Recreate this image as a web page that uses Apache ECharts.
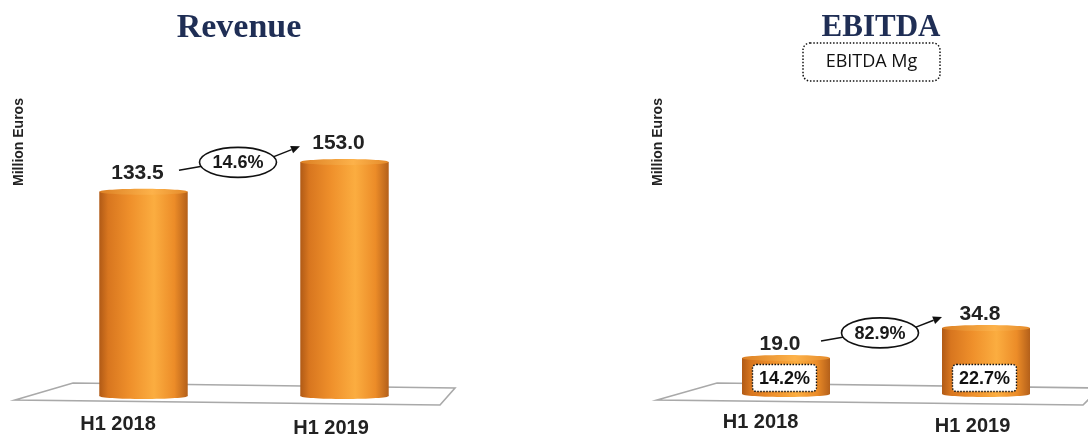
<!DOCTYPE html>
<html>
<head>
<meta charset="utf-8">
<script src="https://cdn.jsdelivr.net/npm/echarts@6/dist/echarts.min.js"></script>
<style>
  html, body { margin: 0; padding: 0; background: #ffffff; }
  #chart { width: 1088px; height: 438px; }
</style>
</head>
<body>
<div id="chart"></div>
<script>
// ---- data ----
const categories = ['H1 2018', 'H1 2019'];
const revenueValues = [133.5, 153.0];
const revenueGrowth = '14.6%';
const ebitdaValues = [19.0, 34.8];
const ebitdaGrowth = '82.9%';
const ebitdaMargins = ['14.2%', '22.7%'];
const panelTitles = ['Revenue', 'EBITDA'];
const unitLabel = 'Million Euros';
const marginLegend = 'EBITDA Mg';

// ---- styling ----
const INK = '#222222';
const TITLE_COLOR = '#1f2e55';
const LABEL_FONT = 'bold 21px "Liberation Sans", Arial, sans-serif';

const bodyFill = {
  type: 'linear', x: 0, y: 0, x2: 1, y2: 0,
  colorStops: [
    { offset: 0, color: '#b05a16' },
    { offset: 0.1, color: '#d8761f' },
    { offset: 0.35, color: '#ef902b' },
    { offset: 0.62, color: '#fbad40' },
    { offset: 0.85, color: '#ec8c28' },
    { offset: 1, color: '#b4601a' }
  ]
};
const topFill = {
  type: 'linear', x: 0, y: 0, x2: 1, y2: 0,
  colorStops: [
    { offset: 0, color: '#dc8024' },
    { offset: 0.6, color: '#fdb24a' },
    { offset: 1, color: '#e48a2a' }
  ]
};

// cylinder bars, value label above, optional margin tag inside, growth bubble between bars
function makeRenderer(values, growthText, margins, labelDy) {
  const labelDx = -6;
  return function (params, api) {
    const idx = api.value(0);
    const v = api.value(1);
    const top = api.coord([idx, v]);
    const base = api.coord([idx, 0]);
    const w = api.size([1, 0])[0] * 0.44;
    const rx = w / 2, ry = 3;
    const cx = top[0];
    const children = [
      { type: 'ellipse', shape: { cx: cx, cy: base[1], rx: rx, ry: ry }, style: { fill: bodyFill } },
      { type: 'rect', shape: { x: cx - rx, y: top[1], width: w, height: base[1] - top[1] }, style: { fill: bodyFill } },
      { type: 'ellipse', shape: { cx: cx, cy: top[1], rx: rx, ry: ry }, style: { fill: topFill } },
      {
        type: 'text',
        style: {
          text: v.toFixed(1), x: cx + labelDx, y: top[1] + labelDy,
          align: 'center', verticalAlign: 'middle', font: LABEL_FONT, fill: INK
        }
      }
    ];

    if (margins) {
      const bx = cx - 1.5, by = base[1] - 16;
      children.push({
        type: 'rect',
        shape: { x: bx - 32, y: by - 13.5, width: 64, height: 27, r: 4 },
        style: { fill: '#ffffff', stroke: '#111111', lineWidth: 1.4, lineDash: [1.5, 1.5] }
      });
      children.push({
        type: 'text',
        style: {
          text: margins[params.dataIndex], x: bx, y: by + 1,
          align: 'center', verticalAlign: 'middle',
          font: 'bold 18px "Liberation Sans", Arial, sans-serif', fill: '#111111'
        }
      });
    }

    if (params.dataIndex === 1) {
      const p0 = api.coord([0, values[0]]);
      const l0 = [p0[0] + labelDx, p0[1] + labelDy];
      const l1 = [cx + labelDx, top[1] + labelDy];
      const ex = (l0[0] + l1[0]) / 2;
      const ey = (l0[1] + l1[1]) / 2 + 4;
      const tip = [ex + 62, ey - 16];
      const from = [ex + 34, ey - 5];
      const dx = tip[0] - from[0], dy = tip[1] - from[1];
      const len = Math.sqrt(dx * dx + dy * dy);
      const ux = dx / len, uy = dy / len;
      const hl = 9, hw = 4;
      const back = [tip[0] - ux * hl, tip[1] - uy * hl];
      children.push(
        {
          type: 'line',
          shape: { x1: ex - 59, y1: ey + 8, x2: ex - 36, y2: ey + 4 },
          style: { stroke: '#111111', lineWidth: 1.5 }
        },
        {
          type: 'line',
          shape: { x1: from[0], y1: from[1], x2: back[0], y2: back[1] },
          style: { stroke: '#111111', lineWidth: 1.5 }
        },
        {
          type: 'polygon',
          shape: { points: [tip, [back[0] - uy * hw, back[1] + ux * hw], [back[0] + uy * hw, back[1] - ux * hw]] },
          style: { fill: '#111111' }
        },
        {
          type: 'ellipse',
          shape: { cx: ex, cy: ey, rx: 38.5, ry: 15 },
          style: { fill: '#ffffff', stroke: '#111111', lineWidth: 1.6 }
        },
        {
          type: 'text',
          style: {
            text: growthText, x: ex, y: ey + 1, align: 'center', verticalAlign: 'middle',
            font: 'bold 18px "Liberation Sans", Arial, sans-serif', fill: '#1a1a1a'
          }
        }
      );
    }
    return { type: 'group', children: children };
  };
}

function categoryAxis(gridIndex) {
  return {
    type: 'category', gridIndex: gridIndex, data: categories,
    axisLine: { show: false }, axisTick: { show: false }, splitLine: { show: false },
    axisLabel: {
      margin: 18,
      formatter: function (val, i) { return '{c' + i + '|' + val + '}'; },
      rich: {
        c0: { padding: [0, 51, 0, 0], fontSize: 20, fontWeight: 'bold', color: INK, fontFamily: '"Liberation Sans", Arial, sans-serif' },
        c1: { padding: [4, 27, 0, 0], fontSize: 20, fontWeight: 'bold', color: INK, fontFamily: '"Liberation Sans", Arial, sans-serif' }
      }
    }
  };
}

function valueAxis(gridIndex, max) {
  return {
    type: 'value', gridIndex: gridIndex, min: 0, max: max,
    axisLine: { show: false }, axisTick: { show: false },
    axisLabel: { show: false }, splitLine: { show: false }
  };
}

function floor(points) {
  return {
    type: 'polygon', z: 0,
    shape: { points: points },
    style: { fill: 'none', stroke: '#a9a9a9', lineWidth: 1.6 }
  };
}

function unitText(x, y) {
  return {
    type: 'text', x: x, y: y, rotation: Math.PI / 2,
    style: {
      text: unitLabel, align: 'center', verticalAlign: 'middle',
      font: 'bold 14px "Liberation Sans", Arial, sans-serif', fill: '#222222'
    }
  };
}

const chart = echarts.init(document.getElementById('chart'), null, { renderer: 'canvas' });

chart.setOption({
  animation: false,
  backgroundColor: '#ffffff',
  title: [
    {
      text: panelTitles[0], left: 234, top: 6, textAlign: 'center',
      textStyle: { fontFamily: '"Liberation Serif", "Times New Roman", serif', fontWeight: 'bold', fontSize: 34, color: TITLE_COLOR }
    },
    {
      text: panelTitles[1], left: 876, top: 7, textAlign: 'center',
      textStyle: { fontFamily: '"Liberation Serif", "Times New Roman", serif', fontWeight: 'bold', fontSize: 31, color: TITLE_COLOR }
    }
  ],
  grid: [
    { left: 43, width: 402, top: 90, bottom: 42 },
    { left: 686, width: 400, top: 109, bottom: 44 }
  ],
  xAxis: [categoryAxis(0), categoryAxis(1)],
  yAxis: [valueAxis(0, 200), valueAxis(1, 150)],
  graphic: [
    floor([[73, 383], [455, 388], [440, 405], [15, 400]]),
    floor([[717, 383], [1100, 388], [1083, 405], [657, 400]]),
    unitText(19, 142),
    unitText(658, 142),
    {
      type: 'rect', z: 5,
      shape: { x: 803, y: 43, width: 137, height: 38, r: 7 },
      style: { fill: '#ffffff', stroke: '#111111', lineWidth: 1.5, lineDash: [1.5, 1.8] }
    },
    {
      type: 'text', z: 6, x: 871.5, y: 62,
      style: {
        text: marginLegend, align: 'center', verticalAlign: 'middle',
        font: '18px "Open Sans", "Noto Sans", sans-serif', fill: '#111111'
      }
    }
  ],
  series: [
    {
      type: 'custom', xAxisIndex: 0, yAxisIndex: 0, z: 3,
      data: revenueValues.map(function (v, i) { return [i, v]; }),
      renderItem: makeRenderer(revenueValues, revenueGrowth, null, -18.5)
    },
    {
      type: 'custom', xAxisIndex: 1, yAxisIndex: 1, z: 3,
      data: ebitdaValues.map(function (v, i) { return [i, v]; }),
      renderItem: makeRenderer(ebitdaValues, ebitdaGrowth, ebitdaMargins, -14)
    }
  ]
});
</script>
</body>
</html>
